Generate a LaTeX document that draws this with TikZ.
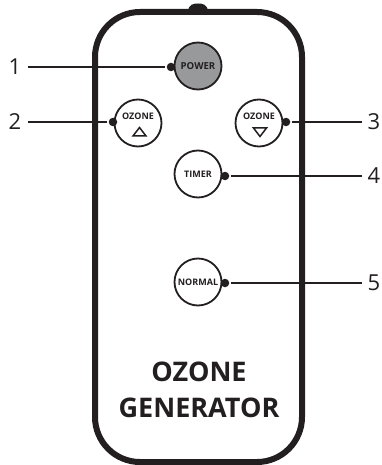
\documentclass[tikz,border=0pt]{standalone}
\usepackage{fontspec}
\setmainfont{Open Sans}
\newcommand{\fs}[1]{\fontsize{#1}{#1}\selectfont}
\tikzset{
  x=1pt,y=-1pt,
  btn/.style={circle,draw=ink,line width=1.8pt,fill=white,minimum size=47pt,inner sep=0pt},
  btntext/.style={text=ink,inner sep=0pt,font=\fs{9}\bfseries},
  pin/.style={circle,fill=ink,minimum size=8.5pt,inner sep=0pt},
  num/.style={text=ink,inner sep=0pt,font=\fs{22}},
  lead/.style={draw=ink,line width=1.1pt},
  title/.style={text=ink,inner sep=0pt,font=\fs{27}\bfseries},
  tri/.style={draw=ink,line width=1.5pt,line join=miter}
}
\definecolor{ink}{HTML}{231F20}
\definecolor{btngrey}{HTML}{97999B}
\begin{document}
\begin{tikzpicture}
\useasboundingbox (0,0) rectangle (381,465);
% body
\fill[ink] (188,11) .. controls (189,4) and (194,3.5) .. (198,3.5) .. controls (202,3.5) and (207,4) .. (208,11) -- cycle;
\draw[ink,line width=6pt,fill=white,rounded corners=45pt] (95,12) rectangle (302,462);
% buttons
\node[btn,fill=btngrey] (power) at (198,66) {};
\node[btntext,font=\fs{9.6}\bfseries] (powertext) at (198,66) {POWER};
\node[btn] (ozup) at (138,123) {};
\node[btntext] (ozuptext) at (138,116) {OZONE};
\draw[tri] (133,136) -- (146,136) -- (139.5,127.5) -- cycle;
\node[btn] (ozdn) at (259,123) {};
\node[btntext] (ozdntext) at (259,116) {OZONE};
\draw[tri] (253.5,128) -- (266.5,128) -- (260,136.5) -- cycle;
\node[btn] (timer) at (198,174) {};
\node[btntext] (timertext) at (198,174.5) {TIMER};
\node[btn] (normal) at (198,282) {};
\node[btntext] (normaltext) at (198,282.5) {NORMAL};
% pins
\node[pin] (p1) at (171,67) {};
\node[pin] (p2) at (113,122) {};
\node[pin] (p3) at (286,122) {};
\node[pin] (p4) at (225,176) {};
\node[pin] (p5) at (225,283) {};
% labels
\node[num] (n1) at (15,67) {1};
\node[num] (n2) at (15,122) {2};
\node[num] (n3) at (374,122) {3};
\node[num] (n4) at (374,176) {4};
\node[num] (n5) at (374,283) {5};
\coordinate (a1) at (28,67);
\coordinate (a2) at (28,122);
\coordinate (a3) at (362,122);
\coordinate (a4) at (362,176);
\coordinate (a5) at (362,283);
\draw[lead] (a1) -- ([xshift=-2pt]p1.west);
\draw[lead] (a2) -- ([xshift=-2pt]p2.west);
\draw[lead] (a3) -- ([xshift=2pt]p3.east);
\draw[lead] (a4) -- ([xshift=2pt]p4.east);
\draw[lead] (a5) -- ([xshift=2pt]p5.east);
% title
\node[title] (t1) at (199,372) {OZONE};
\node[title] (t2) at (199,408) {GENERATOR};
\end{tikzpicture}
\end{document}
